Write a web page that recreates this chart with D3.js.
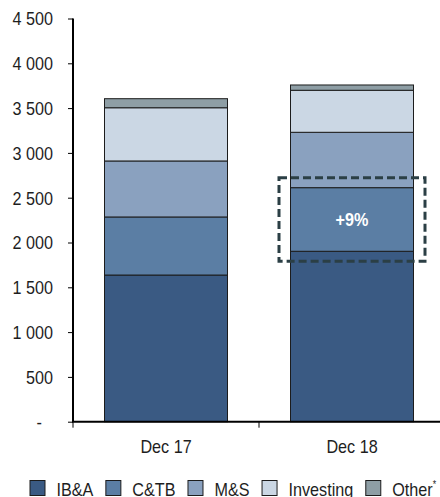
<!DOCTYPE html>
<html>
<head>
<meta charset="utf-8">
<script src="https://cdn.jsdelivr.net/npm/d3@7"></script>
<style>
  html, body { margin: 0; padding: 0; background: #fff; }
  svg { display: block; font-family: "Liberation Sans", Arial, sans-serif; }
</style>
</head>
<body>
<svg id="chart" width="440" height="497"></svg>
<script>
// Revenue by business line, stacked per year-end
const periods = ["Dec 17", "Dec 18"];
const segments = ["IB&A", "C&TB", "M&S", "Investing", "Other"];
const ibaValues = [1637, 1902];
const ctbValues = [648, 710];
const msValues = [625, 618];
const investingValues = [594, 469];
const otherValues = [101, 59];
const yTicks = [0, 500, 1000, 1500, 2000, 2500, 3000, 3500, 4000, 4500];
const highlightLabel = "+9%";
const highlightSegment = "C&TB";
const highlightPeriod = "Dec 18";

const colors = {
  "IB&A": "#3a5a83",
  "C&TB": "#5b7ea4",
  "M&S": "#8aa1bf",
  "Investing": "#cbd7e4",
  "Other": "#8e9ea5"
};

const rows = periods.map((p, i) => ({
  period: p,
  "IB&A": ibaValues[i],
  "C&TB": ctbValues[i],
  "M&S": msValues[i],
  "Investing": investingValues[i],
  "Other": otherValues[i]
}));

const svg = d3.select("#chart");
const x = d3.scaleBand().domain(periods).range([73, 445]).padding(0);
const y = d3.scaleLinear().domain([0, 4500]).range([421.7, 18.5]);
const barW = 123;
const fontSize = 18.6;
const squeeze = 0.87;          // horizontal condensing of the typeface
const textColor = "#1e1e1e";

// place a text at (px, py) with condensed glyphs
function condensed(sel, px, py) {
  return sel.attr("x", 0).attr("y", 0)
    .attr("transform", `translate(${px},${py}) scale(${squeeze},1)`);
}

const stack = d3.stack().keys(segments)(rows);

// stacked bars
const layers = svg.append("g").selectAll("g")
  .data(stack).join("g")
  .attr("fill", d => colors[d.key]);

layers.selectAll("rect")
  .data(d => d)
  .join("rect")
  .attr("x", d => x(d.data.period) + (x.bandwidth() - barW) / 2)
  .attr("width", barW)
  .attr("y", d => y(d[1]))
  .attr("height", d => y(d[0]) - y(d[1]))
  .attr("stroke", "#1c1c1c")
  .attr("stroke-width", 1);

// y axis
const fmt = d3.formatLocale({ decimal: ",", thousands: " ", grouping: [3], currency: ["", ""] }).format(",d");
const yAxis = svg.append("g")
  .attr("transform", "translate(73,0)")
  .call(d3.axisLeft(y).tickValues(yTicks).tickSize(5).tickPadding(15)
    .tickFormat(v => v === 0 ? "-" : fmt(v)));
yAxis.select(".domain").attr("stroke", "#000").attr("stroke-width", 2)
  .attr("d", `M0,${y(4500)}V${y(0)}`);
yAxis.selectAll(".tick line").attr("stroke", "#000");
yAxis.selectAll(".tick text")
  .attr("font-size", fontSize).attr("fill", textColor)
  .attr("font-family", null)
  .attr("dy", "0.34em")
  .each(function (v) {
    condensed(d3.select(this), v === 0 ? -31 : -20, 0);
  });

// x axis
const xAxis = svg.append("g")
  .attr("transform", `translate(0,${y(0)})`);
xAxis.append("line")
  .attr("x1", 72).attr("x2", 440)
  .attr("stroke", "#000").attr("stroke-width", 2);
xAxis.selectAll("line.tk")
  .data([x.range()[0], ...periods.slice(1).map(p => x(p))])
  .join("line").attr("class", "tk")
  .attr("x1", d => d).attr("x2", d => d)
  .attr("y1", 0).attr("y2", 6)
  .attr("stroke", "#000");
xAxis.selectAll("text")
  .data(periods).join("text")
  .attr("text-anchor", "middle")
  .attr("font-size", fontSize).attr("fill", textColor)
  .text(d => d)
  .each(function (d) {
    condensed(d3.select(this), x(d) + x.bandwidth() / 2, 31.5);
  });

// highlighted segment with dashed outline
const hi = stack.find(s => s.key === highlightSegment)[periods.indexOf(highlightPeriod)];
const hx = x(highlightPeriod) + (x.bandwidth() - barW) / 2;
svg.append("rect")
  .attr("x", hx - 11.5)
  .attr("y", y(hi[1]) - 10)
  .attr("width", barW + 23)
  .attr("height", y(hi[0]) - y(hi[1]) + 20)
  .attr("fill", "none")
  .attr("stroke", "#2b3f45")
  .attr("stroke-width", 3)
  .attr("stroke-dasharray", "8,4");
condensed(svg.append("text"), hx + barW / 2, (y(hi[0]) + y(hi[1])) / 2)
  .attr("dy", "0.36em")
  .attr("text-anchor", "middle")
  .attr("font-size", fontSize)
  .attr("font-weight", "bold")
  .attr("fill", "#fff")
  .text(highlightLabel);

// legend
const legend = svg.append("g").attr("transform", "translate(30,480.5)");
let lx = 0;
segments.forEach(k => {
  const g = legend.append("g").attr("transform", `translate(${lx},0)`);
  g.append("rect").attr("width", 15).attr("height", 15)
    .attr("fill", colors[k]).attr("stroke", "#1c1c1c").attr("stroke-width", 1);
  const t = condensed(g.append("text"), 26.5, 15)
    .attr("font-size", fontSize).attr("fill", textColor).text(k);
  if (k === "Other") {
    t.append("tspan").attr("font-size", 10).attr("dy", -8).text("*");
  }
  lx += 26.5 + t.node().getComputedTextLength() * squeeze + 12.5;
});
</script>
</body>
</html>
